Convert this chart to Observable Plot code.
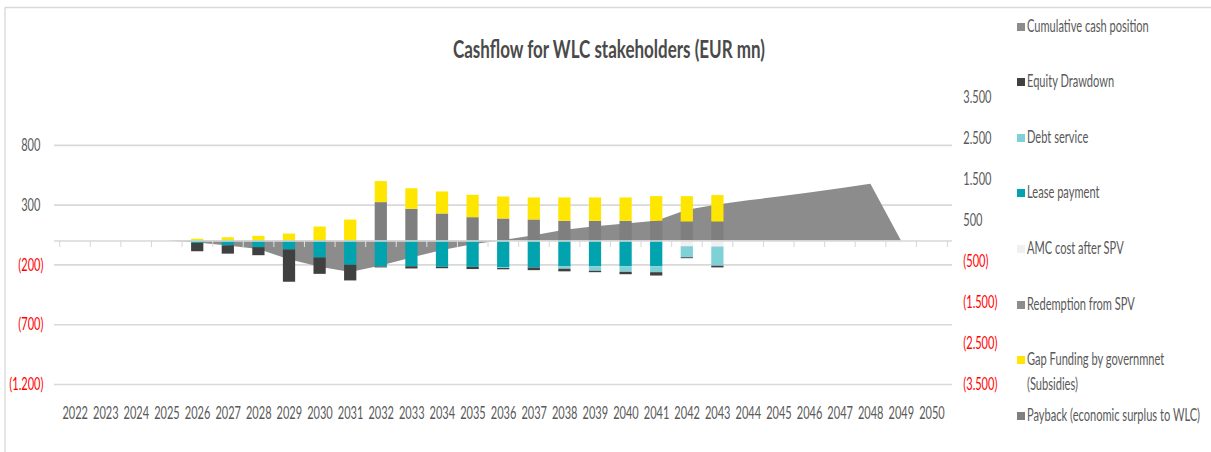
<!DOCTYPE html>
<html><head><meta charset="utf-8">
<script src="https://cdn.jsdelivr.net/npm/d3@7"></script>
<script src="https://cdn.jsdelivr.net/npm/@observablehq/plot@0.6"></script>
<style>
html,body{margin:0;padding:0;background:#fff;overflow:hidden;width:1211px;height:452px;}
#chart{position:relative;height:452px;transform-origin:0 0;font-family:Lato,sans-serif;}
#chart svg{position:absolute;left:0;top:0;}
</style></head><body><div id="chart"></div>
<script>
// ---- data (EUR mn) ----
const years = [2022,2023,2024,2025,2026,2027,2028,2029,2030,2031,2032,2033,2034,2035,2036,2037,2038,2039,2040,2041,2042,2043,2044,2045,2046,2047,2048,2049,2050];
const redemptionFromSPV = [0,0,0,0, 0,0,0,0,0,0, 321,265,226,195,184,176,165,165,165,165,159,159, 0,0,0,0,0,0,0];
const gapFunding = [0,0,0,0, 15,27,39,58,117,175, 176,172,184,187,184,184,195,195,195,206,212,221, 0,0,0,0,0,0,0];
const amcCost = [0,0,0,0, 0,0,0,0,0,0, 0,0,0,0,0,0,0,0,0,0,-48,-50, 0,0,0,0,0,0,0];
const leasePayment = [0,0,0,0, -20,-40,-56,-75,-142,-203, -217,-215,-220,-220,-222,-226,-217,-215,-215,-215,0,0, 0,0,0,0,0,0,0];
const debtService = [0,0,0,0, 0,0,0,0,0,0, 0,0,0,0,-8,0,-19,-38,-47,-50,-92,-161, 0,0,0,0,0,0,0];
const equityDrawdown = [0,0,0,0, -70,-70,-67,-270,-137,-131, -8,-19,-12,-19,-11,-22,-22,-12,-20,-28,-8,-14, 0,0,0,0,0,0,0];
const payback = [0,0,0,0, 0,0,0,0,0,0, 0,0,0,0,0,0,0,0,0,0,0,0, 0,0,0,0,0,0,0];
const cumulativeCash = [0,0,0,0, -50,-120,-210,-460,-640,-770, -610,-415,-230,-90,10,125,260,350,415,480,750,880, 980,1070,1170,1275,1385,0,0];
const leftTicks = [-1200,-700,-200,300,800];
const rightTicks = [-3500,-2500,-1500,-500,500,1500,2500,3500];
const title = "Cashflow for WLC stakeholders (EUR mn)";
const legendNames = ["Cumulative cash position","Equity Drawdown","Debt service","Lease payment","AMC cost after SPV","Redemption from SPV","Gap Funding by governmnet|(Subsidies)","Payback (economic surplus to WLC)"];
const legendColors = ["#8c8c8c","#404040","#80d1d7","#00a3ae","#f0f0f0","#8c8c8c","#ffe600","#7f7f7f"];

// ---- layout ----
const S = 0.68;                 // horizontal compression of the whole picture
const W = 1211 / S, H = 452;
const px = v => v / S;
const plotL = 54, plotR = 952, plotT = 97, plotB = 384;
const step = (px(plotR) - px(plotL)) / years.length;
const common = {
  width: W, height: H,
  marginLeft: px(plotL), marginRight: W - px(plotR), marginTop: plotT, marginBottom: H - plotB,
  style: {fontFamily: "Lato, sans-serif", fontSize: "16px", background: "transparent", overflow: "visible"}
};
const fmt = d => { const s = d3.format(",")(Math.abs(d)).replace(/,/g, "."); return d < 0 ? `(${s})` : s; };

const chart = document.getElementById("chart");
chart.style.width = W + "px";
chart.style.transform = `scaleX(${S})`;

// narrow, taller glyphs (like the condensed original font)
function squeeze(root, size, f) {
  d3.select(root).selectAll("text").each(function() {
    this.setAttribute("font-size", size);
    const tspans = this.querySelectorAll("tspan");
    const els = tspans.length ? Array.from(tspans) : [this];
    for (const el of els) {
      const len = el.getComputedTextLength();
      el.setAttribute("textLength", len * f);
      el.setAttribute("lengthAdjust", "spacingAndGlyphs");
    }
  });
}

// layer 1: gridlines (left scale)
const grid = Plot.plot({
  ...common,
  x: {type: "band", domain: years, axis: null},
  y: {domain: [-1200, 1200], axis: null},
  marks: [Plot.gridY(leftTicks, {stroke: "#d9d9d9", strokeOpacity: 1, strokeWidth: 1.6})]
});
chart.append(grid);

// layer 2: cumulative area (right scale)
const cumRows = years.map((y, i) => ({year: y, value: cumulativeCash[i]}));
const area = Plot.plot({
  ...common,
  x: {type: "point", domain: years, padding: 0.5, axis: null},
  y: {domain: [-3500, 3500], axis: null, label: null},
  marks: [
    Plot.areaY(cumRows, {x: "year", y: "value", fill: "#8c8c8c"}),
    Plot.axisY(rightTicks.filter(d => d > 0), {anchor: "right", tickSize: 0, tickPadding: px(11), tickFormat: fmt, fill: "#595959", fontSize: 16, label: null}),
    Plot.axisY(rightTicks.filter(d => d < 0), {anchor: "right", tickSize: 0, tickPadding: px(11), tickFormat: fmt, fill: "#ff0000", fontSize: 16, label: null})
  ]
});
chart.append(area);
squeeze(area, 18, 0.9);

// layer 3: stacked bars (left scale)
const series = [
  ["Redemption from SPV", redemptionFromSPV, "#7f7f7f"],
  ["Gap Funding by governmnet (Subsidies)", gapFunding, "#ffe600"],
  ["AMC cost after SPV", amcCost, "#f0f0f0"],
  ["Lease payment", leasePayment, "#00a3ae"],
  ["Debt service", debtService, "#80d1d7"],
  ["Equity Drawdown", equityDrawdown, "#404040"],
  ["Payback (economic surplus to WLC)", payback, "#7f7f7f"]
];
const barRows = [];
for (const [name, vals] of series) vals.forEach((v, i) => { if (v !== 0) barRows.push({year: years[i], series: name, value: v}); });
const order = series.map(s => s[0]);
const bars = Plot.plot({
  ...common,
  x: {type: "band", domain: years, paddingInner: 0.6, paddingOuter: 0.3, axis: null, label: null},
  y: {domain: [-1200, 1200], axis: null, label: null},
  color: {domain: order, range: series.map(s => s[2])},
  marks: [
    Plot.barY(barRows, {x: "year", y: "value", fill: "series", order}),
    Plot.ruleY([0], {stroke: "#d9d9d9", strokeWidth: 1.6}),
    Plot.ruleX(years, {x: d => d, y1: () => 0, y2: () => -55, stroke: "#d9d9d9", strokeWidth: 1.6, dx: -step / 2}),
    Plot.ruleX(years.slice(-1), {x: d => d, y1: () => 0, y2: () => -55, stroke: "#d9d9d9", strokeWidth: 1.6, dx: step / 2}),
    Plot.axisX({anchor: "bottom", tickSize: 0, tickPadding: 22, tickFormat: d => `${d}`, fill: "#595959", fontSize: 16, label: null}),
    Plot.axisY(leftTicks.filter(d => d > 0), {anchor: "left", tickSize: 0, tickPadding: px(14), tickFormat: fmt, fill: "#595959", fontSize: 16, label: null}),
    Plot.axisY(leftTicks.filter(d => d < 0), {anchor: "left", tickSize: 0, tickPadding: px(11), tickFormat: fmt, fill: "#ff0000", fontSize: 16, label: null})
  ]
});
chart.append(bars);
squeeze(bars, 18, 0.9);

// overlay: frame, title, legend
const ov = d3.create("svg").attr("width", W).attr("height", H).style("overflow", "visible");
ov.append("line").attr("x1", px(5)).attr("x2", W).attr("y1", 7.5).attr("y2", 7.5).attr("stroke", "#d9d9d9").attr("stroke-width", 1.5);
ov.append("line").attr("x1", px(5)).attr("x2", px(5)).attr("y1", 7.5).attr("y2", H).attr("stroke", "#d9d9d9").attr("stroke-width", 2);
ov.append("text").attr("x", px(609)).attr("y", 58).attr("text-anchor", "middle")
  .attr("font-family", "Lato, sans-serif").attr("font-size", 25).attr("font-weight", 700).attr("fill", "#4a4a4a").text(title);
const baselines = [32, 87, 143, 198, 254, 310, 365, 421];
const legendG = ov.append("g");
legendNames.forEach((name, i) => {
  const y = baselines[i];
  ov.append("rect").attr("x", px(1017)).attr("y", y - 9).attr("width", px(8)).attr("height", 8).attr("fill", legendColors[i]);
  const t = legendG.append("text").attr("x", px(1027)).attr("y", y).attr("font-family", "Lato, sans-serif").attr("font-size", 16).attr("fill", "#595959");
  name.split("|").forEach((line, j) => t.append("tspan").attr("x", px(1027)).attr("dy", j ? 25 : 0).text(line));
});
chart.append(ov.node());
squeeze(legendG.node(), 17, 0.96);
</script>
</body></html>
